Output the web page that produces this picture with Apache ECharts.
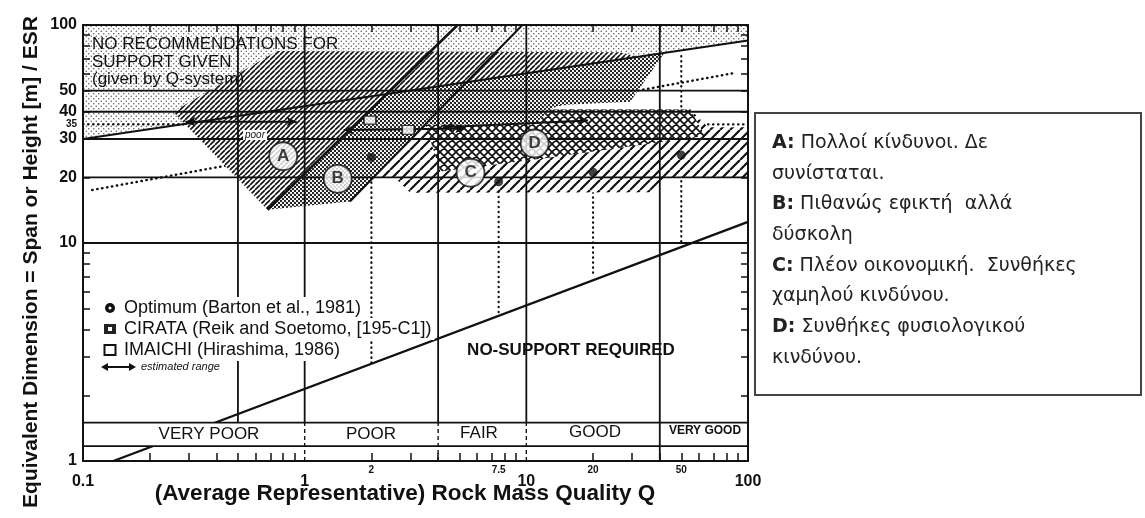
<!DOCTYPE html>
<html>
<head>
<meta charset="utf-8">
<title>Q-system support chart</title>
<script src="https://cdn.jsdelivr.net/npm/echarts@6/dist/echarts.min.js"></script>
<style>
html, body { margin: 0; padding: 0; background: #fff; }
#chart { width: 1145px; height: 518px; }
</style>
</head>
<body>
<div id="chart"></div>
<script>
// tick labels
const X_MAIN_LABELS = [0.1, 1, 10, 100]
const X_SMALL_LABELS = [2, 7.5, 20, 50]
const Y_MAIN_LABELS = [1, 10, 20, 30, 40, 50, 100]
const Y_SMALL_LABELS = [35]
const MINOR_STEPS = [2, 3, 4, 5, 6, 7, 8, 9]

// grid of the original figure
const H_LINES = [10, 20, 30, 40, 50]
const V_LINES = [0.5, 1, 4, 10, 40]
const BAND_EDGES = [1.17, 1.5]
const BAND_DASHED = [1, 4, 10]
const BAND_SOLID = [40]

// boundary lines, [Q, span]
const NO_SUPPORT = [[0.137, 1], [100, 12.5]]
const UPPER_LIMIT = [[0.1, 30], [100, 85]]
const EDGE_AB = [[0.68, 14.2], [4.9, 100]]
const EDGE_BC = [[1.6, 15.5], [9.6, 100]]
const ENVELOPE = [[0.11, 17.5], [85, 60]]
const DOTTED_35 = [[0.1, 35], [100, 35]]

// zones, [Q, span]
const ZONE_NONE = [[0.1, 100], [100, 100], [100, 85], [0.1, 30]]
const ZONE_A = [[0.255, 40], [0.75, 76], [26.5, 75], [32, 71.5], [2.3, 48], [0.68, 14.2]]
const ZONE_B = [[0.68, 14.2], [1.6, 15.5], [3.5, 35], [10.9, 35], [12.8, 41], [14.2, 43], [29.4, 44.4], [42, 74.5], [2.3, 48]]
const ZONE_C = [[2.1, 20], [3.5, 35], [10.9, 35], [12.8, 41], [55, 41], [66, 34], [100, 34], [100, 20], [42, 20], [36, 17.1], [3, 17], [2.55, 20]]
const ZONE_D = [[3.5, 35], [10.9, 35], [12.8, 41], [55, 41], [64, 31], [12.8, 24.7], [4.1, 21.3]]
const ZONE_LETTERS = ['A', 'B', 'C', 'D']
const ZONE_LETTER_AT = [[0.8, 25], [1.41, 19.7], [5.6, 21], [10.9, 28.6]]

// case histories
const OPT_Q = [2, 7.5, 20, 50]
const OPT_SPAN = [24.7, 19.1, 21.1, 25.3]
const OPT_DROP_TOP = [24.7, 19.1, 21.1, 72]
const OPT_DROP_BOTTOM = [2.8, 4.8, 7, 10]
const IMAICHI = [2.93, 33]
const CIRATA = [1.97, 36.6]
const RANGES = [
    [[0.29, 36], [0.92, 36]],
    [[1.5, 33], [5.3, 33.5]],
    [[4.2, 34], [19, 36.5]],
]

// quality classes
const CLASS_NAMES = ['VERY POOR', 'POOR', 'FAIR', 'GOOD', 'VERY GOOD']

// notes box
const NOTE_LINES = [
    ['A:', 'Πολλοί κίνδυνοι. Δε'],
    ['', 'συνίσταται.'],
    ['B:', 'Πιθανώς εφικτή  αλλά'],
    ['', 'δύσκολη'],
    ['C:', 'Πλέον οικονομική.  Συνθήκες'],
    ['', 'χαμηλού κινδύνου.'],
    ['D:', 'Συνθήκες φυσιολογικού'],
    ['', 'κινδύνου.'],
]

const FONT = 'Liberation Sans, Arial, sans-serif'
const INK = '#111'
const DOT = [0.5, 4.5]
const lg = Math.log10
const xy = p => [lg(p[0]), lg(p[1])]
const fmt = v => String(Math.round(Math.pow(10, v) * 10) / 10)

function minorTicks(decades) {
    const out = []
    decades.forEach(d => MINOR_STEPS.forEach(s => out.push(d + lg(s))))
    return out
}

function pattern(size, draw) {
    const c = document.createElement('canvas')
    c.width = size
    c.height = size
    const ctx = c.getContext('2d')
    ctx.fillStyle = '#fff'
    ctx.fillRect(0, 0, size, size)
    draw(ctx, size)
    return { image: c, repeat: 'repeat' }
}
function dots(r, color) {
    return (ctx, s) => {
        ctx.fillStyle = color
        ;[[s / 4, s / 4], [3 * s / 4, 3 * s / 4]].forEach(([x, y]) => {
            ctx.beginPath()
            ctx.arc(x, y, r, 0, Math.PI * 2)
            ctx.fill()
        })
    }
}
function hatch(width, cross) {
    return (ctx, s) => {
        ctx.strokeStyle = INK
        ctx.lineWidth = width
        ctx.beginPath()
        for (let k = -1; k <= 1; k++) {
            ctx.moveTo(k * s, s)
            ctx.lineTo(k * s + s, 0)
            if (cross) {
                ctx.moveTo(k * s, 0)
                ctx.lineTo(k * s + s, s)
            }
        }
        ctx.stroke()
    }
}

const FILL_NONE = pattern(5, dots(0.75, '#555'))
const FILL_A = pattern(5, hatch(1.6, false))
const FILL_B = pattern(4, dots(1.15, '#1a1a1a'))
const FILL_C = pattern(10, hatch(2.2, false))
const FILL_D = pattern(8, hatch(1.7, true))

function zone(pts, fill, z) {
    return {
        type: 'custom', z, silent: true,
        data: [xy(pts[0])],
        renderItem: (params, api) => ({
            type: 'polygon',
            shape: { points: pts.map(p => api.coord(xy(p))) },
            style: { fill: fill, stroke: null },
        }),
    }
}
function seg(pts, z, width, type) {
    return {
        type: 'line', z, silent: true, symbol: 'none',
        data: pts.map(xy),
        lineStyle: { color: INK, width, type: type || 'solid', cap: type === DOT ? 'round' : 'butt' },
    }
}

const series = []
series.push(zone(ZONE_NONE, FILL_NONE, 1))
series.push(seg(DOTTED_35, 2, 2.2, DOT))
series.push(seg(ENVELOPE, 2, 2.4, DOT))
OPT_Q.forEach((q, i) => series.push(seg([[q, OPT_DROP_TOP[i]], [q, OPT_DROP_BOTTOM[i]]], 2, 2.2, DOT)))
series.push(zone(ZONE_C, FILL_C, 3))
series.push(zone(ZONE_D, FILL_D, 4))
series.push(zone(ZONE_B, FILL_B, 5))
series.push(zone(ZONE_A, FILL_A, 6))
H_LINES.forEach(v => series.push(seg([[0.1, v], [100, v]], 7, 1.8)))
V_LINES.forEach(q => series.push(seg([[q, BAND_EDGES[1]], [q, 100]], 7, 1.8)))
series.push(seg(NO_SUPPORT, 8, 2.2))
series.push(seg(UPPER_LIMIT, 8, 2))
series.push(seg(EDGE_AB, 8, 2.6))
series.push(seg(EDGE_BC, 8, 2))
series.push(zone([[0.1, BAND_EDGES[0]], [100, BAND_EDGES[0]], [100, BAND_EDGES[1]], [0.1, BAND_EDGES[1]]], '#fff', 9))
BAND_EDGES.forEach(v => series.push(seg([[0.1, v], [100, v]], 10, 1.8)))
BAND_DASHED.forEach(q => series.push(seg([[q, 1], [q, BAND_EDGES[1]]], 10, 1.4, [4, 3])))
BAND_SOLID.forEach(q => series.push(seg([[q, 1], [q, BAND_EDGES[1]]], 10, 1.8)))

RANGES.forEach(r => series.push({
    type: 'line', z: 11, silent: true,
    data: [
        { value: xy(r[0]), symbol: 'arrow', symbolRotate: 90 },
        { value: xy(r[1]), symbol: 'arrow', symbolRotate: -90 },
    ],
    symbolSize: [7, 10],
    itemStyle: { color: INK },
    lineStyle: { color: INK, width: 2 },
}))
series.push({
    type: 'scatter', z: 12, silent: true,
    data: [xy(IMAICHI)], symbol: 'rect', symbolSize: [12, 9],
    itemStyle: { color: '#fff', borderColor: INK, borderWidth: 1.5 },
})
series.push({
    type: 'scatter', z: 12, silent: true,
    data: [xy(CIRATA)], symbol: 'rect', symbolSize: [12, 8],
    itemStyle: { color: '#fff', borderColor: INK, borderWidth: 1.5 },
})
series.push({
    type: 'scatter', z: 12, silent: true,
    data: OPT_Q.map((q, i) => xy([q, OPT_SPAN[i]])),
    symbol: 'circle', symbolSize: 9,
    itemStyle: { color: INK },
})
series.push({
    type: 'scatter', z: 13, silent: true,
    data: ZONE_LETTER_AT.map(xy),
    symbol: 'circle', symbolSize: 28,
    itemStyle: { color: '#fff', borderColor: INK, borderWidth: 1.8 },
    label: {
        show: true, position: 'inside',
        formatter: p => ZONE_LETTERS[p.dataIndex],
        fontSize: 17, fontWeight: 'bold', fontFamily: FONT, color: INK,
    },
})

const axisLine = { show: true, onZero: false, lineStyle: { color: INK, width: 2 } }
const tickStyle = { color: INK, width: 1.5 }
const noLine = { show: false, onZero: false }

const text = (x, y, str, size, extra) => ({
    type: 'text', x, y, z: 100,
    style: Object.assign({
        text: str, fontSize: size, fontFamily: FONT, fill: INK,
        align: 'center', verticalAlign: 'middle',
    }, extra || {}),
})
const legendText = (y, str) => text(121, y, str, 18, { align: 'left', backgroundColor: '#fff', padding: [2, 3, 2, 3] })

const graphic = [
    text(92, 36, 'NO RECOMMENDATIONS FOR\nSUPPORT GIVEN\n(given by Q-system)', 17, { align: 'left', verticalAlign: 'top', lineHeight: 17.5 }),
    text(571, 350, 'NO-SUPPORT REQUIRED', 17, { fontWeight: 'bold' }),
    text(255, 135, 'poor', 10, { fontStyle: 'italic', backgroundColor: '#fff', padding: [0, 2] }),
    text(209, 434, CLASS_NAMES[0], 17),
    text(371, 434, CLASS_NAMES[1], 17),
    text(479, 433, CLASS_NAMES[2], 17),
    text(595, 432, CLASS_NAMES[3], 17),
    text(705, 431, CLASS_NAMES[4], 12, { fontWeight: 'bold' }),
    // legend
    { type: 'rect', z: 99, shape: { x: 98, y: 297, width: 24, height: 62 }, style: { fill: '#fff' } },
    { type: 'circle', z: 100, shape: { cx: 110, cy: 308, r: 5 }, style: { fill: INK } },
    { type: 'circle', z: 101, shape: { cx: 110, cy: 308, r: 1.5 }, style: { fill: '#fff' } },
    { type: 'rect', z: 100, shape: { x: 104, y: 324, width: 12, height: 10 }, style: { fill: '#222' } },
    { type: 'rect', z: 101, shape: { x: 108, y: 327, width: 4, height: 4 }, style: { fill: '#fff' } },
    { type: 'rect', z: 100, shape: { x: 104.5, y: 345, width: 11, height: 10 }, style: { fill: '#fff', stroke: INK, lineWidth: 2 } },
    { type: 'line', z: 100, shape: { x1: 103, y1: 367, x2: 134, y2: 367 }, style: { stroke: INK, lineWidth: 2 } },
    { type: 'polygon', z: 100, shape: { points: [[101, 367], [108, 363], [108, 371]] }, style: { fill: INK } },
    { type: 'polygon', z: 100, shape: { points: [[136, 367], [129, 363], [129, 371]] }, style: { fill: INK } },
    legendText(308, 'Optimum (Barton et al., 1981)'),
    legendText(329, 'CIRATA (Reik and Soetomo, [195-C1])'),
    legendText(350, 'IMAICHI (Hirashima, 1986)'),
    text(139, 367, 'estimated range', 11, { align: 'left', fontStyle: 'italic', backgroundColor: '#fff', padding: [0, 2] }),
    // axis names
    text(405, 494, '(Average Representative) Rock Mass Quality Q', 22.5, { fontWeight: 'bold' }),
    Object.assign(text(31, 262, 'Equivalent Dimension = Span or Height [m] / ESR', 21, { fontWeight: 'bold' }), { rotation: Math.PI / 2 }),
    // notes box
    { type: 'rect', z: 100, shape: { x: 755, y: 113, width: 386, height: 282 }, style: { fill: '#fff', stroke: '#444', lineWidth: 2 } },
]
NOTE_LINES.forEach((l, i) => {
    graphic.push(text(772, 143 + i * 30.7, (l[0] ? '{b|' + l[0] + '} ' : '') + l[1], 19, {
        align: 'left', fontFamily: 'DejaVu Sans, sans-serif', fill: '#222',
        rich: { b: { fontWeight: 'bold', fontSize: 19, fontFamily: 'DejaVu Sans, sans-serif', fill: '#222' } },
    }))
})

const chart = echarts.init(document.getElementById('chart'))
chart.setOption({
    animation: false,
    backgroundColor: '#fff',
    grid: { left: 83, right: 397, top: 25, bottom: 57, containLabel: false },
    xAxis: [
        {
            type: 'value', min: -1, max: 2, position: 'bottom', z: 20,
            axisLine,
            axisTick: { show: true, inside: true, length: 8, lineStyle: tickStyle, customValues: minorTicks([-1, 0, 1]) },
            axisLabel: { customValues: X_MAIN_LABELS.map(lg), formatter: fmt, fontSize: 16, fontWeight: 'bold', fontFamily: FONT, color: INK, margin: 13 },
            splitLine: noLine,
        },
        {
            type: 'value', min: -1, max: 2, position: 'bottom', z: 20,
            axisLine: noLine, axisTick: noLine,
            axisLabel: { customValues: X_SMALL_LABELS.map(lg), formatter: fmt, fontSize: 10, fontWeight: 'bold', fontFamily: FONT, color: INK, margin: 4 },
            splitLine: noLine,
        },
        {
            type: 'value', min: -1, max: 2, position: 'top', z: 20,
            axisLine,
            axisTick: { show: true, inside: true, length: 7, lineStyle: tickStyle, customValues: minorTicks([-1, 0, 1]) },
            axisLabel: { show: false },
            splitLine: noLine,
        },
    ],
    yAxis: [
        {
            type: 'value', min: 0, max: 2, position: 'left', z: 20,
            axisLine,
            axisTick: { show: true, inside: true, length: 7, lineStyle: tickStyle, customValues: minorTicks([0, 1]) },
            axisLabel: { customValues: Y_MAIN_LABELS.map(lg), formatter: fmt, fontSize: 16, fontWeight: 'bold', fontFamily: FONT, color: INK, margin: 6 },
            splitLine: noLine,
        },
        {
            type: 'value', min: 0, max: 2, position: 'left', z: 20,
            axisLine: noLine, axisTick: noLine,
            axisLabel: { customValues: Y_SMALL_LABELS.map(lg), formatter: fmt, fontSize: 10, fontWeight: 'bold', fontFamily: FONT, color: INK, margin: 6 },
            splitLine: noLine,
        },
        {
            type: 'value', min: 0, max: 2, position: 'right', z: 20,
            axisLine,
            axisTick: { show: true, inside: true, length: 7, lineStyle: tickStyle, customValues: minorTicks([0, 1]) },
            axisLabel: { show: false },
            splitLine: noLine,
        },
    ],
    series,
    graphic,
})
</script>
</body>
</html>
